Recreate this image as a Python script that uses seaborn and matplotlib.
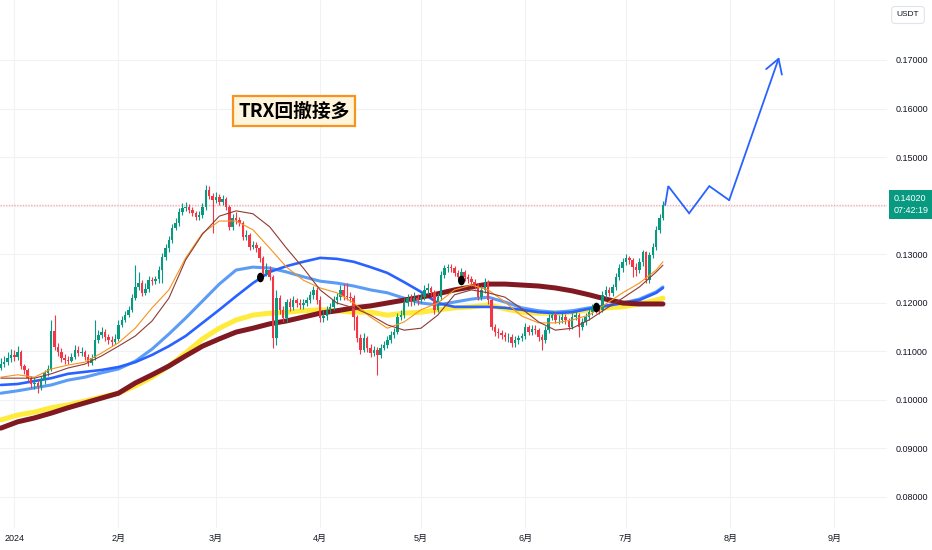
import numpy as np
import pandas as pd
import matplotlib
matplotlib.use("Agg")
import matplotlib.pyplot as plt
import matplotlib.dates as mdates
from matplotlib.markers import MarkerStyle
from matplotlib.transforms import Affine2D
import seaborn as sns

# ---------------- data ----------------
candle_start = "2023-12-28"
candle_end = "2024-07-12"
first_open = 0.1065

closes = [0.1073, 0.1077, 0.1086, 0.1092,
          0.1088, 0.1098, 0.1069, 0.1061, 0.1044, 0.1032, 0.1034, 0.1026, 0.1040, 0.1055,
          0.1063, 0.1141, 0.1108, 0.1098, 0.1086, 0.1081, 0.1079, 0.1088, 0.1102, 0.1096,
          0.1098, 0.1088, 0.1075, 0.1086, 0.1123, 0.1133, 0.1139, 0.1129, 0.1123, 0.1119,
          0.1125, 0.1154, 0.1164, 0.1174, 0.1185, 0.1209, 0.1232, 0.1240, 0.1220, 0.1228,
          0.1246, 0.1244, 0.1249, 0.1267, 0.1294, 0.1312, 0.1329, 0.1354, 0.1364, 0.1387,
          0.1395, 0.1397, 0.1391, 0.1385, 0.1376, 0.1380, 0.1397, 0.1432, 0.1420, 0.1411,
          0.1418, 0.1407, 0.1413, 0.1397, 0.1356, 0.1374, 0.1370, 0.1364, 0.1335, 0.1339,
          0.1314, 0.1319, 0.1312, 0.1292, 0.1261, 0.1267, 0.1253, 0.1127, 0.1209, 0.1185,
          0.1168, 0.1201, 0.1191, 0.1205, 0.1199, 0.1195, 0.1199, 0.1205, 0.1216, 0.1226,
          0.1205, 0.1168, 0.1172, 0.1185, 0.1191, 0.1205, 0.1211, 0.1226, 0.1213, 0.1211,
          0.1209, 0.1170, 0.1127, 0.1102, 0.1127, 0.1106, 0.1096, 0.1102, 0.1092, 0.1106,
          0.1112, 0.1123, 0.1133, 0.1139, 0.1170, 0.1174, 0.1199, 0.1209, 0.1201, 0.1209,
          0.1205, 0.1211, 0.1226, 0.1230, 0.1222, 0.1185, 0.1211, 0.1257, 0.1271, 0.1273,
          0.1271, 0.1261, 0.1253, 0.1263, 0.1253, 0.1249, 0.1242, 0.1236, 0.1211, 0.1226,
          0.1242, 0.1205, 0.1149, 0.1139, 0.1137, 0.1133, 0.1129, 0.1129, 0.1117, 0.1123,
          0.1127, 0.1131, 0.1149, 0.1139, 0.1145, 0.1143, 0.1129, 0.1123, 0.1143, 0.1168,
          0.1174, 0.1164, 0.1164, 0.1170, 0.1164, 0.1149, 0.1170, 0.1174, 0.1149, 0.1160,
          0.1170, 0.1180, 0.1189, 0.1187, 0.1185, 0.1216, 0.1226, 0.1220, 0.1232, 0.1253,
          0.1271, 0.1284, 0.1292, 0.1288, 0.1273, 0.1267, 0.1284, 0.1304, 0.1246, 0.1298,
          0.1314, 0.1349, 0.1374, 0.1402]

highs = [0.1086, 0.1090, 0.1098, 0.1104,
         0.1102, 0.1110, 0.1102, 0.1073, 0.1065, 0.1049, 0.1044, 0.1040, 0.1049, 0.1061,
         0.1071, 0.1164, 0.1174, 0.1117, 0.1106, 0.1094, 0.1090, 0.1096, 0.1112, 0.1110,
         0.1108, 0.1102, 0.1094, 0.1094, 0.1164, 0.1143, 0.1150, 0.1145, 0.1135, 0.1131,
         0.1135, 0.1164, 0.1172, 0.1183, 0.1193, 0.1218, 0.1277, 0.1263, 0.1246, 0.1240,
         0.1255, 0.1253, 0.1255, 0.1275, 0.1302, 0.1321, 0.1337, 0.1362, 0.1374, 0.1395,
         0.1405, 0.1407, 0.1403, 0.1397, 0.1389, 0.1389, 0.1405, 0.1442, 0.1440, 0.1426,
         0.1428, 0.1424, 0.1422, 0.1418, 0.1401, 0.1382, 0.1387, 0.1376, 0.1368, 0.1350,
         0.1343, 0.1327, 0.1325, 0.1317, 0.1296, 0.1281, 0.1275, 0.1257, 0.1226, 0.1216,
         0.1193, 0.1207, 0.1209, 0.1213, 0.1209, 0.1207, 0.1207, 0.1211, 0.1224, 0.1234,
         0.1232, 0.1213, 0.1185, 0.1193, 0.1199, 0.1213, 0.1220, 0.1236, 0.1238, 0.1240,
         0.1222, 0.1216, 0.1174, 0.1135, 0.1137, 0.1131, 0.1114, 0.1110, 0.1108, 0.1114,
         0.1121, 0.1131, 0.1141, 0.1147, 0.1178, 0.1185, 0.1209, 0.1218, 0.1218, 0.1222,
         0.1218, 0.1222, 0.1236, 0.1240, 0.1234, 0.1226, 0.1220, 0.1265, 0.1277, 0.1279,
         0.1279, 0.1275, 0.1267, 0.1271, 0.1267, 0.1259, 0.1255, 0.1249, 0.1240, 0.1234,
         0.1251, 0.1246, 0.1209, 0.1156, 0.1147, 0.1143, 0.1139, 0.1137, 0.1135, 0.1131,
         0.1133, 0.1137, 0.1158, 0.1154, 0.1154, 0.1154, 0.1147, 0.1135, 0.1152, 0.1176,
         0.1183, 0.1180, 0.1174, 0.1178, 0.1176, 0.1168, 0.1178, 0.1183, 0.1178, 0.1168,
         0.1178, 0.1189, 0.1197, 0.1197, 0.1195, 0.1224, 0.1234, 0.1232, 0.1238, 0.1261,
         0.1279, 0.1292, 0.1300, 0.1296, 0.1292, 0.1281, 0.1292, 0.1308, 0.1306, 0.1304,
         0.1323, 0.1358, 0.1382, 0.1409]

lows = [0.1061, 0.1067, 0.1071, 0.1077,
        0.1079, 0.1081, 0.1063, 0.1053, 0.1038, 0.1024, 0.1022, 0.1013, 0.1020, 0.1032,
        0.1049, 0.1059, 0.1102, 0.1090, 0.1077, 0.1073, 0.1073, 0.1077, 0.1084, 0.1090,
        0.1090, 0.1081, 0.1069, 0.1071, 0.1081, 0.1117, 0.1127, 0.1121, 0.1114, 0.1110,
        0.1114, 0.1121, 0.1150, 0.1160, 0.1170, 0.1180, 0.1205, 0.1226, 0.1213, 0.1216,
        0.1222, 0.1236, 0.1238, 0.1240, 0.1240, 0.1288, 0.1304, 0.1323, 0.1350, 0.1358,
        0.1380, 0.1389, 0.1385, 0.1378, 0.1370, 0.1370, 0.1374, 0.1391, 0.1413, 0.1343,
        0.1405, 0.1401, 0.1401, 0.1391, 0.1350, 0.1350, 0.1362, 0.1358, 0.1329, 0.1329,
        0.1308, 0.1310, 0.1304, 0.1284, 0.1251, 0.1255, 0.1246, 0.1106, 0.1112, 0.1176,
        0.1160, 0.1160, 0.1183, 0.1185, 0.1191, 0.1187, 0.1187, 0.1193, 0.1199, 0.1207,
        0.1197, 0.1160, 0.1160, 0.1164, 0.1178, 0.1185, 0.1197, 0.1205, 0.1205, 0.1205,
        0.1201, 0.1143, 0.1119, 0.1094, 0.1098, 0.1098, 0.1088, 0.1090, 0.1051, 0.1086,
        0.1102, 0.1106, 0.1117, 0.1127, 0.1135, 0.1164, 0.1168, 0.1193, 0.1193, 0.1195,
        0.1195, 0.1199, 0.1205, 0.1218, 0.1213, 0.1176, 0.1180, 0.1205, 0.1251, 0.1263,
        0.1263, 0.1255, 0.1246, 0.1244, 0.1244, 0.1240, 0.1234, 0.1228, 0.1205, 0.1205,
        0.1220, 0.1197, 0.1143, 0.1131, 0.1127, 0.1125, 0.1121, 0.1119, 0.1108, 0.1108,
        0.1114, 0.1121, 0.1125, 0.1133, 0.1133, 0.1135, 0.1121, 0.1102, 0.1117, 0.1137,
        0.1164, 0.1158, 0.1156, 0.1158, 0.1156, 0.1143, 0.1145, 0.1164, 0.1129, 0.1143,
        0.1154, 0.1164, 0.1174, 0.1178, 0.1176, 0.1180, 0.1209, 0.1213, 0.1213, 0.1226,
        0.1246, 0.1263, 0.1277, 0.1279, 0.1253, 0.1255, 0.1261, 0.1275, 0.1240, 0.1240,
        0.1292, 0.1308, 0.1343, 0.1370]

# moving averages read at 5-day steps (plus last bar)
ma_orange = [0.1046, 0.1051, 0.1046, 0.1063, 0.1071, 0.1077, 0.1096, 0.1117, 0.1147, 0.1189,
             0.1226, 0.1292, 0.1343, 0.1368, 0.1368, 0.1350, 0.1312, 0.1273, 0.1246, 0.1230,
             0.1220, 0.1199, 0.1170, 0.1147, 0.1160, 0.1185, 0.1199, 0.1226, 0.1236, 0.1226,
             0.1201, 0.1172, 0.1158, 0.1158, 0.1164, 0.1174, 0.1197, 0.1220, 0.1240, 0.1267,
             0.1284]
ma_brown = [0.1044, 0.1044, 0.1044, 0.1053, 0.1065, 0.1073, 0.1090, 0.1110, 0.1131, 0.1162,
            0.1209, 0.1288, 0.1341, 0.1378, 0.1389, 0.1383, 0.1356, 0.1312, 0.1271, 0.1226,
            0.1199, 0.1189, 0.1174, 0.1154, 0.1143, 0.1147, 0.1174, 0.1216, 0.1226, 0.1220,
            0.1211, 0.1187, 0.1160, 0.1143, 0.1147, 0.1164, 0.1187, 0.1209, 0.1232, 0.1263,
            0.1277]
ma_lightblue = [0.1013, 0.1018, 0.1024, 0.1030, 0.1040, 0.1046, 0.1055, 0.1063, 0.1079, 0.1104,
                0.1135, 0.1168, 0.1203, 0.1238, 0.1267, 0.1273, 0.1271, 0.1263, 0.1253, 0.1244,
                0.1240, 0.1234, 0.1226, 0.1220, 0.1209, 0.1199, 0.1195, 0.1201, 0.1207, 0.1211,
                0.1201, 0.1189, 0.1183, 0.1180, 0.1183, 0.1189, 0.1193, 0.1199, 0.1207, 0.1222,
                0.1232]
ma_blue = [0.1030, 0.1032, 0.1038, 0.1044, 0.1053, 0.1057, 0.1061, 0.1067, 0.1077, 0.1092,
           0.1110, 0.1131, 0.1158, 0.1185, 0.1213, 0.1240, 0.1263, 0.1275, 0.1284, 0.1292,
           0.1290, 0.1284, 0.1273, 0.1261, 0.1242, 0.1222, 0.1199, 0.1191, 0.1191, 0.1191,
           0.1189, 0.1185, 0.1180, 0.1178, 0.1180, 0.1187, 0.1193, 0.1199, 0.1205, 0.1220,
           0.1230]
ma_yellow = [0.0958, 0.0968, 0.0974, 0.0983, 0.0989, 0.0997, 0.1005, 0.1013, 0.1028, 0.1046,
             0.1069, 0.1096, 0.1125, 0.1147, 0.1164, 0.1174, 0.1178, 0.1180, 0.1183, 0.1185,
             0.1183, 0.1180, 0.1180, 0.1174, 0.1178, 0.1180, 0.1185, 0.1189, 0.1191, 0.1195,
             0.1187, 0.1180, 0.1178, 0.1178, 0.1180, 0.1185, 0.1189, 0.1191, 0.1197, 0.1205,
             0.1209]
ma_maroon = [0.0941, 0.0954, 0.0962, 0.0972, 0.0983, 0.0993, 0.1003, 0.1013, 0.1034, 0.1051,
             0.1069, 0.1090, 0.1110, 0.1125, 0.1139, 0.1147, 0.1156, 0.1162, 0.1170, 0.1178,
             0.1183, 0.1189, 0.1193, 0.1199, 0.1205, 0.1211, 0.1218, 0.1226, 0.1232, 0.1238,
             0.1238, 0.1236, 0.1234, 0.1230, 0.1224, 0.1216, 0.1207, 0.1199, 0.1197, 0.1197,
             0.1197]

dot_dates = ["2024-03-14", "2024-05-13", "2024-06-22"]
dot_prices = [0.1253, 0.1246, 0.1191]

proj_dates = ["2024-07-12 16:00", "2024-07-13 14:00", "2024-07-19 19:00",
              "2024-07-25 19:00", "2024-07-31 17:00", "2024-08-15 14:00"]
proj_prices = [0.1401, 0.1440, 0.1384, 0.1440, 0.1411, 0.1706]

last_price = 0.1402
last_price_text = "0.14020"
countdown_text = "07:42:19"
title_text = "TRX回撤接多"
currency_text = "USDT"

price_ticks = [0.08, 0.09, 0.10, 0.11, 0.12, 0.13, 0.14, 0.15, 0.16, 0.17]
month_ticks = ["2024-01-01", "2024-02-01", "2024-03-01", "2024-04-01", "2024-05-01",
               "2024-06-01", "2024-07-01", "2024-08-01", "2024-09-01"]
month_labels = ["2024", "2月", "3月", "4月", "5月", "6月", "7月", "8月", "9月"]

# ---------------- styling ----------------
sns.set_theme(style="white")
plt.rcParams['font.family'] = ['Liberation Sans Narrow', 'Liberation Sans',
                               'Noto Sans CJK SC', 'DejaVu Sans']

UP = "#089981"
DOWN = "#f23645"
TEXT = "#131722"

fig = plt.figure(figsize=(9.32, 5.5), dpi=100)
ax = fig.add_axes([0, 22 / 550, 887 / 932, 528 / 550])

# candles
dates = pd.date_range(candle_start, candle_end, freq="D")
c = np.array(closes)
o = np.array([first_open] + closes[:-1])
h = np.maximum(np.array(highs), np.maximum(o, c))
l = np.minimum(np.array(lows), np.minimum(o, c))
cols = np.where(c >= o, UP, DOWN)
xd = mdates.date2num(dates)
ax.vlines(xd, l, h, colors=cols, linewidth=0.8, zorder=3)
ax.bar(xd, np.maximum(np.abs(c - o), 0.00008), bottom=np.minimum(o, c), width=0.74,
       color=cols, linewidth=0, zorder=3)

# moving averages
ma_dates = list(pd.date_range(candle_start, "2024-07-10", freq="5D")) + [pd.Timestamp(candle_end)]
ma_df = pd.DataFrame({
    "date": mdates.date2num(pd.DatetimeIndex(ma_dates)),
    "yellow": ma_yellow, "maroon": ma_maroon, "lightblue": ma_lightblue,
    "blue": ma_blue, "orange": ma_orange, "brown": ma_brown,
})
styles = [("yellow", "#ffeb3b", 3.6, 2.0),
          ("lightblue", "#5b9cf6", 2.2, 2.1),
          ("blue", "#2962ff", 1.9, 2.2),
          ("maroon", "#801922", 3.6, 2.3),
          ("orange", "#f7931a", 0.8, 4.0),
          ("brown", "#8e3b32", 0.8, 4.1)]
for col, color, lw, z in styles:
    sns.lineplot(data=ma_df, x="date", y=col, color=color, linewidth=lw, ax=ax,
                 zorder=z, solid_capstyle="round", solid_joinstyle="round")

# signal dots
ax.scatter(mdates.date2num(pd.to_datetime(dot_dates)), dot_prices,
           marker=MarkerStyle("o", transform=Affine2D().scale(0.72, 1.0)),
           s=48, color="black", zorder=6, linewidths=0)

# projection path
px = mdates.date2num(pd.to_datetime(proj_dates))
ax.plot(px[:-1], proj_prices[:-1], color="#2962ff", linewidth=1.3, zorder=5,
        solid_joinstyle="miter")
ax.annotate("", xy=(px[-1], proj_prices[-1]), xytext=(px[-2], proj_prices[-2]),
            arrowprops=dict(arrowstyle="->,head_length=0.5,head_width=0.3",
                            color="#2962ff", lw=1.3, shrinkA=0, shrinkB=0,
                            mutation_scale=20), zorder=5)

# last price line
ax.axhline(last_price, color=DOWN, alpha=0.4, linestyle=(0, (1, 1)),
           linewidth=1.0, zorder=1)

# axes
ax.set_xlim(mdates.date2num(pd.Timestamp("2023-12-27 18:00")),
            mdates.date2num(pd.Timestamp("2024-09-16 16:00")))
ax.set_ylim(0.07351, 0.18237)
ax.set_xlabel("")
ax.set_ylabel("")
for s in ax.spines.values():
    s.set_visible(False)
ax.yaxis.tick_right()
ax.set_yticks(price_ticks)
ax.set_yticklabels(["" if abs(v - 0.14) < 1e-9 else f"{v:.5f}" for v in price_ticks])
ax.set_xticks(mdates.date2num(pd.to_datetime(month_ticks)))
ax.set_xticklabels(month_labels)
ax.tick_params(axis="y", length=0, pad=6.5, labelsize=6.5, labelcolor=TEXT)
ax.tick_params(axis="x", length=0, pad=4, labelsize=6.5, labelcolor=TEXT)
ax.grid(True, color="#f0f2f5", linewidth=0.8)
ax.set_axisbelow(True)

# title box
ax.text(0.3315, 0.7898, title_text, transform=ax.transAxes, ha="center", va="center",
        fontsize=13.5, fontweight="bold", color="black",
        family=["Noto Sans CJK SC", "DejaVu Sans"],
        bbox=dict(boxstyle="square,pad=0.3", fc="#fff4dc", ec="#f7941d", lw=1.6),
        zorder=7)

# last price label
ax.annotate(f"{last_price_text}\n{countdown_text}", xy=(1.0, last_price),
            xycoords=("axes fraction", "data"), xytext=(4.5, 0),
            textcoords="offset points", ha="left", va="center", color="white",
            fontsize=6.5, linespacing=1.35, annotation_clip=False,
            bbox=dict(boxstyle="square,pad=0.45", fc=UP, ec="none"), zorder=8)

# currency box
fig.text(908 / 932, 1 - 15 / 550, currency_text, ha="center", va="center",
         fontsize=6, color=TEXT,
         bbox=dict(boxstyle="round,pad=0.6,rounding_size=0.4", fc="white",
                   ec="#e0e3eb", lw=0.8))

fig.savefig("out.png", dpi=100)
